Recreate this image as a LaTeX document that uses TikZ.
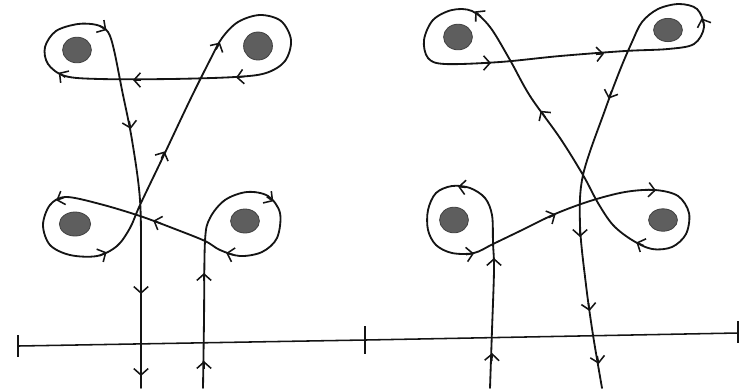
\documentclass[tikz,border=0pt]{standalone}
\usetikzlibrary{arrows.meta,shapes.geometric}
\definecolor{ink}{HTML}{141414}
\definecolor{dotgray}{HTML}{5E5E5E}
\tikzset{
  strand/.style={draw=ink,line width=1.3pt,line cap=round,line join=round},
  axis/.style={draw=ink,line width=1.1pt},
  puncture/.style={ellipse,draw=ink!80,fill=dotgray,line width=0.6pt,inner sep=0pt,minimum width=0.72cm,minimum height=0.64cm},
  dirmark/.style={draw=ink,line width=1.1pt,-{Straight Barb[length=1.6mm,width=3.6mm]}}
}
\begin{document}
\begin{tikzpicture}[x=0.025cm,y=-0.025cm]
\path[use as bounding box] (0,0) rectangle (747,391);
\node[puncture] (lA) at (77,50) {}; \node[puncture,minimum height=0.7cm] (lB) at (258,46) {};
\node[puncture,minimum width=0.78cm,minimum height=0.6cm] (lC) at (75,224) {}; \node[puncture,minimum height=0.6cm] (lD) at (245,221) {};
\node[puncture] (rA) at (458,37) {}; \node[puncture,minimum height=0.58cm] (rB) at (668,30) {};
\node[puncture] (rC) at (454,220) {}; \node[puncture,minimum height=0.56cm] (rD) at (663,220) {};
\coordinate (a) at (18,346); \coordinate (m) at (365,340); \coordinate (b) at (738,333);
\draw[axis] (a) -- (m) -- (b);
\draw[axis] (a) ++(0,-11) -- ++(0,22); \draw[axis] (m) ++(0,-14) -- ++(0,28); \draw[axis] (b) ++(0,-12) -- ++(0,22);
\draw[strand] plot[smooth,tension=0.55] coordinates {(203,388) (204,320) (205,241) (210,218) (225,200) (247,192) (268,196) (280,213)
  (277,238) (262,252) (240,256) (220,250) (205,241) (175,229) (140,216) (100,204) (66,197) (50,205) (43,225) (50,245)
  (70,255) (97,256) (117,246) (130,228) (140,205) (163,157) (190,100) (210,60) (222,38) (238,22) (260,15) (281,21)
  (291,40) (285,61) (266,73) (235,77) (170,79) (100,79) (65,76) (48,64) (45,47) (56,31) (78,24) (97,25) (108,32)
  (114,50) (122,90) (132,140) (140,200) (141,270) (141,388)};
\draw[strand] plot[smooth,tension=0.55] coordinates {(490,388) (492,330) (494,270) (493,243) (492,215) (485,198) (470,188) (452,186)
  (436,193) (428,210) (428,230) (436,245) (452,253) (474,253) (493,244) (520,231) (555,214) (590,201) (625,192) (655,190)
  (678,196) (689,213) (686,234) (672,247) (652,249) (632,240) (613,225) (598,203) (583,175) (560,138) (530,96) (510,60)
  (490,27) (472,11) (452,10) (433,20) (424,40) (428,58) (445,64) (500,62) (560,56) (625,51) (668,49) (694,44) (704,27)
  (697,9) (679,4) (658,9) (642,22) (632,42) (620,70) (605,110) (583,175) (580,225) (586,285) (593,335) (602,388)};
\draw[dirmark] (204,365) ++(-90:-4) -- ++(-90:8); \draw[dirmark] (204,277) ++(-90:-4) -- ++(-90:8);
\draw[dirmark] (270,199) ++(35:-4) -- ++(35:8); \draw[dirmark] (230,254) ++(195:-4) -- ++(195:8);
\draw[dirmark] (157,222) ++(200:-4) -- ++(200:8); \draw[dirmark] (60,199) ++(160:-4) -- ++(160:8);
\draw[dirmark] (103,254) ++(-27:-4) -- ++(-27:8); \draw[dirmark] (163,155) ++(-65:-4) -- ++(-65:8);
\draw[dirmark] (218,46) ++(-61:-4) -- ++(-61:8); \draw[dirmark] (240,77) ++(173:-4) -- ++(173:8);
\draw[dirmark] (137,80) ++(180:-4) -- ++(180:8); \draw[dirmark] (62,75) ++(215:-4) -- ++(215:8);
\draw[dirmark] (103,28) ++(32:-4) -- ++(32:8); \draw[dirmark] (130,125) ++(79:-4) -- ++(79:8);
\draw[dirmark] (141,290) ++(90:-4) -- ++(90:8); \draw[dirmark] (141,372) ++(90:-4) -- ++(90:8);
\draw[dirmark] (492,357) ++(-88:-4) -- ++(-88:8); \draw[dirmark] (494,262) ++(-90:-4) -- ++(-90:8);
\draw[dirmark] (462,187) ++(186:-4) -- ++(186:8); \draw[dirmark] (470,254) ++(-8:-4) -- ++(-8:8);
\draw[dirmark] (552,216) ++(-26:-4) -- ++(-26:8); \draw[dirmark] (652,190) ++(5:-4) -- ++(5:8);
\draw[dirmark] (640,244) ++(204:-4) -- ++(204:8); \draw[dirmark] (543,114) ++(234:-4) -- ++(234:8);
\draw[dirmark] (478,14) ++(222:-4) -- ++(222:8); \draw[dirmark] (487,63) ++(0:-4) -- ++(0:8);
\draw[dirmark] (600,54) ++(-4:-4) -- ++(-4:8); \draw[dirmark] (703,22) ++(249:-4) -- ++(249:8);
\draw[dirmark] (610,95) ++(111:-4) -- ++(111:8); \draw[dirmark] (580,233) ++(90:-4) -- ++(90:8);
\draw[dirmark] (589,307) ++(82:-4) -- ++(82:8); \draw[dirmark] (598,360) ++(80:-4) -- ++(80:8);
\end{tikzpicture}
\end{document}
